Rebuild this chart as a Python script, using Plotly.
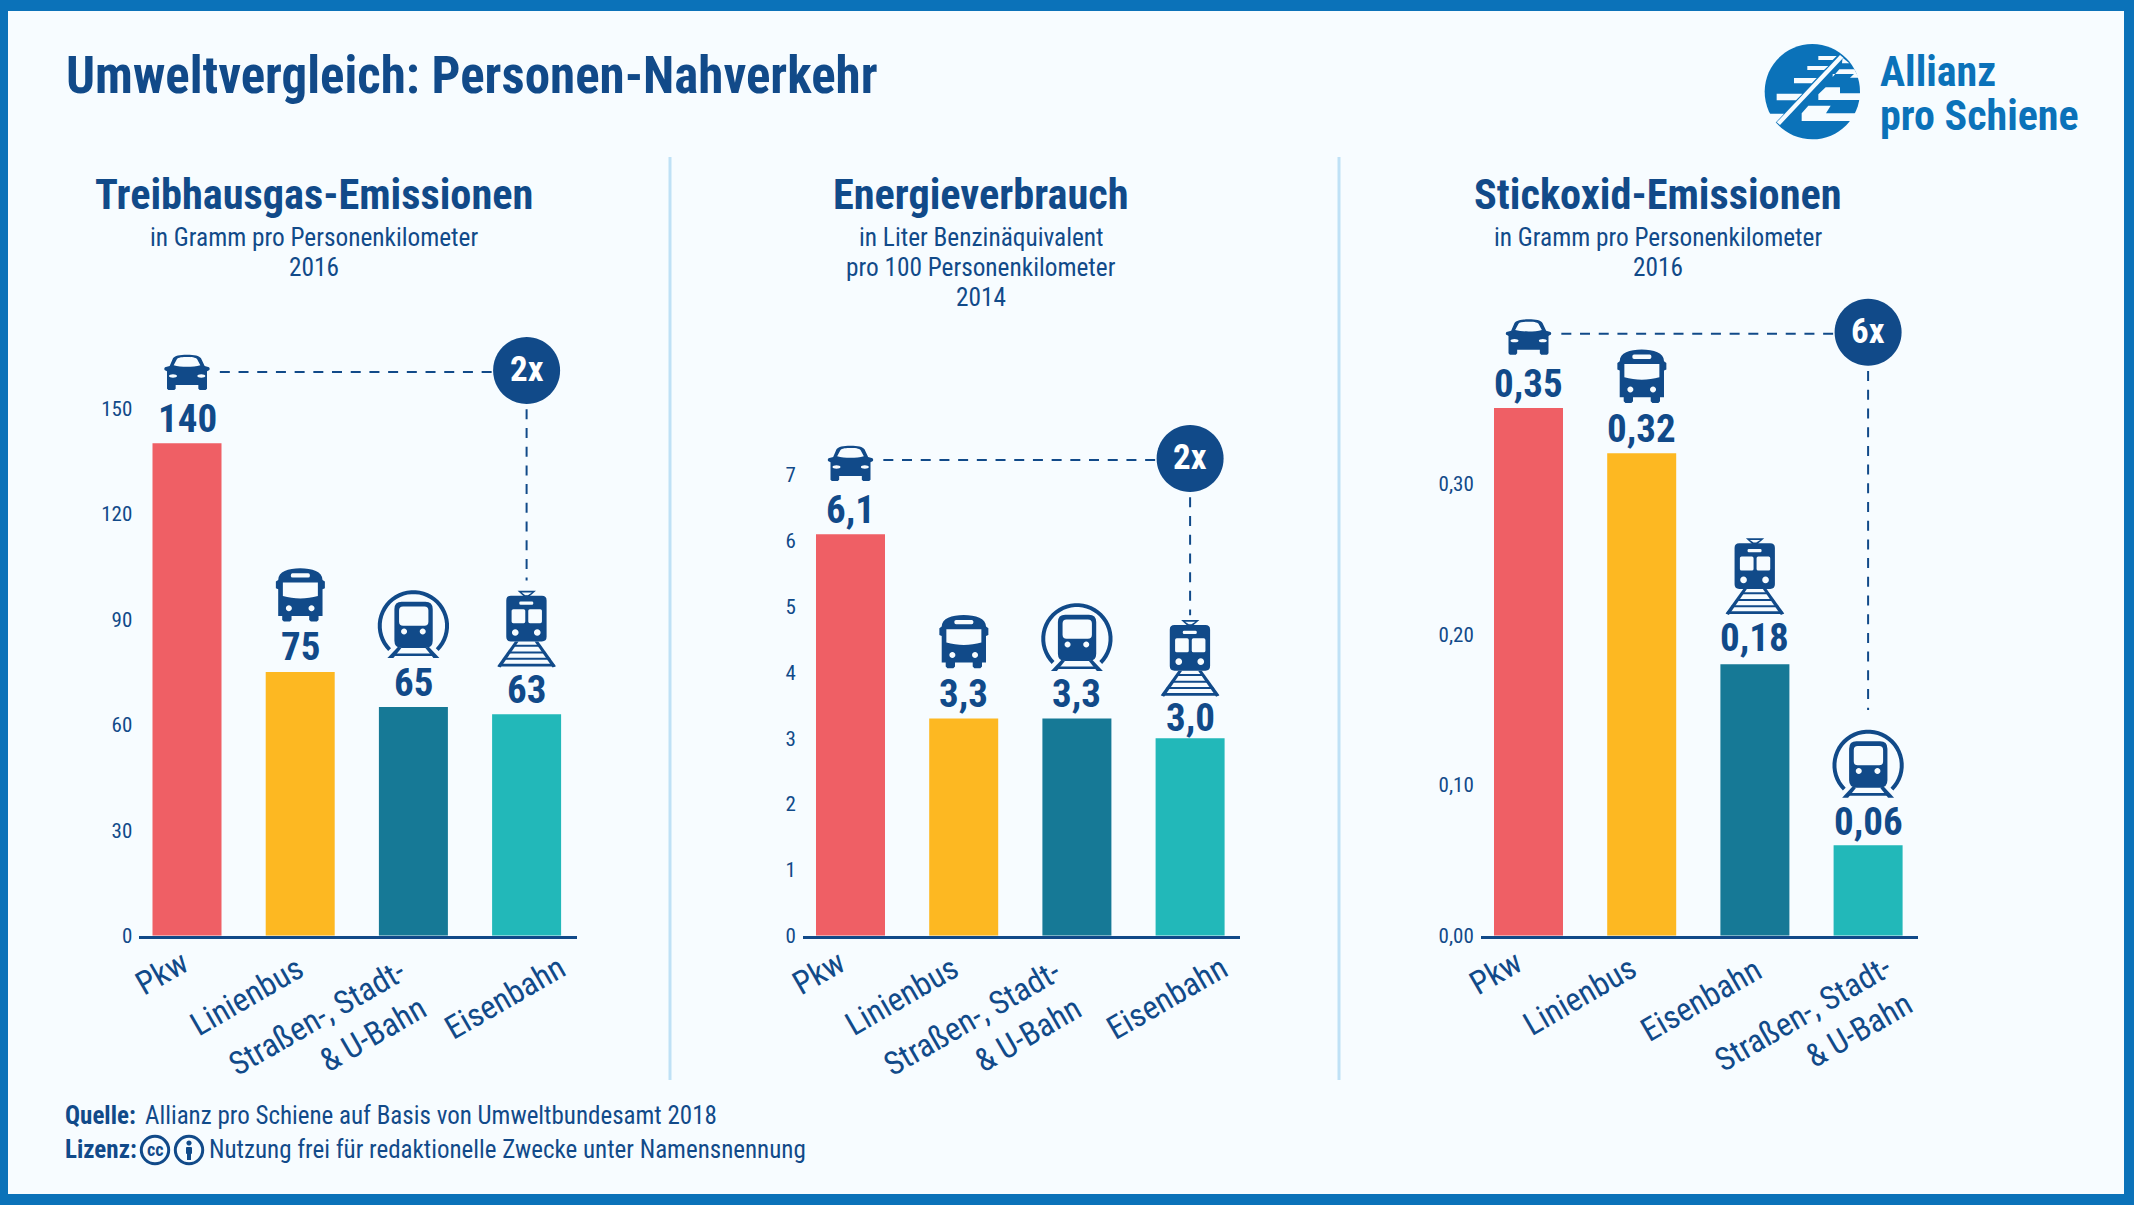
import re
import numpy as np
import plotly.graph_objects as go

W, H = 2134, 1205

# data
titles = ["Treibhausgas-Emissionen", "Energieverbrauch", "Stickoxid-Emissionen"]
subtitles = [
    ["in Gramm pro Personenkilometer", "2016"],
    ["in Liter Benzinäquivalent", "pro 100 Personenkilometer", "2014"],
    ["in Gramm pro Personenkilometer", "2016"],
]
labels_ghg = ["Pkw", "Linienbus", "Straßen-, Stadt-<br>& U-Bahn", "Eisenbahn"]
labels_energy = ["Pkw", "Linienbus", "Straßen-, Stadt-<br>& U-Bahn", "Eisenbahn"]
labels_nox = ["Pkw", "Linienbus", "Eisenbahn", "Straßen-, Stadt-<br>& U-Bahn"]
values_ghg = [140, 75, 65, 63]
values_energy = [6.1, 3.3, 3.3, 3.0]
values_nox = [0.35, 0.32, 0.18, 0.06]
text_ghg = ["140", "75", "65", "63"]
text_energy = ["6,1", "3,3", "3,3", "3,0"]
text_nox = ["0,35", "0,32", "0,18", "0,06"]
ticks_ghg = [0, 30, 60, 90, 120, 150]
ticks_energy = [0, 1, 2, 3, 4, 5, 6, 7]
ticks_nox = [0, 0.1, 0.2, 0.3]
ticktext_nox = ["0,00", "0,10", "0,20", "0,30"]
icons_ghg = ["car", "bus", "metro", "train"]
icons_energy = ["car", "bus", "metro", "train"]
icons_nox = ["car", "bus", "train", "metro"]
factor_labels = ["2x", "2x", "6x"]
# y value of the dashed connector and where the vertical part stops (axis units)
connector_y = [160.3, 7.23, 0.3993]
connector_end = [101.0, 4.87, 0.1497]

NAVY = "#114A89"
BLUE = "#0B72B9"
PANEL = "#F7FCFF"
SEP = "#BFE1F6"
BAR_COLORS = ["#EF5F65", "#FDB822", "#167996", "#22B8B9"]
FONT = "Roboto Condensed"

BASE_Y = 935.7
TOP_Y = 280
PITCH = 113.2
VALUE_SHIFT = 24.5
# (chart, bar): pixels the icon and the value label sit higher or lower than usual
icon_nudge = {(1, 2): -1.5, (1, 3): -5, (2, 2): 2.7, (2, 3): -1.4}
text_nudge = {(1, 3): -4, (2, 2): 1.5, (2, 3): -1}


def px_x(x):
    return x / W


def px_y(y):
    return 1 - y / H


def circ(cx, cy, rx, ry=None):
    ry = rx if ry is None else ry
    k = 0.5523
    return (f"M {cx-rx} {cy} C {cx-rx} {cy-k*ry} {cx-k*rx} {cy-ry} {cx} {cy-ry} "
            f"C {cx+k*rx} {cy-ry} {cx+rx} {cy-k*ry} {cx+rx} {cy} "
            f"C {cx+rx} {cy+k*ry} {cx+k*rx} {cy+ry} {cx} {cy+ry} "
            f"C {cx-k*rx} {cy+ry} {cx-rx} {cy+k*ry} {cx-rx} {cy} Z ")


def rrect(x0, y0, x1, y1, r):
    return (f"M {x0+r} {y0} L {x1-r} {y0} Q {x1} {y0} {x1} {y0+r} L {x1} {y1-r} Q {x1} {y1} {x1-r} {y1} "
            f"L {x0+r} {y1} Q {x0} {y1} {x0} {y1-r} L {x0} {y0+r} Q {x0} {y0} {x0+r} {y0} Z ")


def poly(*pts):
    return "M " + " L ".join(f"{x} {y}" for x, y in pts) + " Z "


def band(cx, cy, r0, r1, a0, a1):
    # arc band as a polygon, angles in degrees
    a = np.radians(np.linspace(a0, a1, 40))
    outer = [(cx + r1 * np.cos(t), cy + r1 * np.sin(t)) for t in a]
    inner = [(cx + r0 * np.cos(t), cy + r0 * np.sin(t)) for t in a[::-1]]
    return poly(*(outer + inner))


# icons are drawn in zoomed (3x) pixels, origin = bar centre at the bar top
ICONS = {
    "car": dict(origin=(112, 310), parts=[
        "M 60 78 L 70 55 C 75 47 90 44 112 44 C 134 44 149 47 154 55 L 165 78 L 178 82 C 182 86 180 92 175 92 "
        "L 172 94 L 172 146 L 168 150 L 150 150 L 146 146 L 146 135 L 78 135 L 78 146 L 74 150 L 56 150 L 52 146 "
        "L 52 94 L 49 92 C 44 92 42 86 46 82 Z "
        "M 72 76 L 82 57 C 85 52 100 51 112 51 C 124 51 139 52 142 57 L 152 76 C 130 82 94 82 72 76 Z "
        + circ(70, 108, 12, 5) + circ(155, 108, 12, 5)]),
    "bus": dict(origin=(151, 396), parts=[
        "M 85 120 C 85 95 115 85 151 85 C 187 85 218 95 218 120 L 225 125 L 225 145 L 218 148 L 218 228 L 206 228 "
        "L 206 240 L 201 245 L 183 245 L 178 240 L 178 228 L 125 228 L 125 240 L 120 245 L 102 245 L 97 240 L 97 228 "
        "L 85 228 L 85 148 L 78 145 L 78 125 Z "
        "M 99 128 L 204 128 L 204 168 C 170 178 133 178 99 168 Z "
        + rrect(123, 100, 180, 113, 5) + circ(117, 205, 9) + circ(185, 205, 9)]),
    "metro": dict(origin=(490, 499), parts=[
        band(490, 255, 95, 107, 135, 405),
        rrect(433, 183, 548, 322, 22) + rrect(447, 197, 535, 255, 12) + circ(462, 272, 9) + circ(518, 272, 9),
        poly((412, 352), (444, 318), (454, 322), (430, 352)),
        poly((568, 352), (536, 318), (526, 322), (550, 352)),
        poly((436, 338), (544, 338), (552, 346), (428, 346)),
    ]),
    "train": dict(origin=(830, 523), parts=[
        poly((803, 153), (858, 153), (838, 170), (822, 170)) + poly((815, 158), (846, 158), (834, 166), (826, 166)),
        rrect(769, 168, 890, 305, 14) + rrect(808, 185, 850, 195, 4) + rrect(785, 208, 826, 250, 5)
        + rrect(835, 208, 876, 250, 5) + circ(796, 278, 10) + circ(862, 278, 10),
        poly((795, 305), (806, 305), (752, 383), (742, 379)),
        poly((865, 305), (854, 305), (908, 383), (918, 379)),
        poly((790, 315), (870, 315), (874, 321), (786, 321)),
        poly((775, 335), (885, 335), (889, 341), (771, 341)),
        poly((761, 354), (899, 354), (903, 360), (757, 360)),
        poly((748, 372), (912, 372), (916, 380), (744, 380)),
    ]),
}


def to_pixel_path(path, origin, up=0):
    # zoomed y-down coordinates -> pixels relative to the anchor, y up
    parts = re.findall(r"[MLQCZ]|-?[\d.]+(?:e-?\d+)?", path)
    out, is_x = [], True
    for p in parts:
        if p in "MLQCZ":
            out.append(p)
            is_x = True
        elif is_x:
            out.append(f"{(float(p) - origin[0]) / 3:.2f}")
            is_x = False
        else:
            out.append(f"{-(float(p) - origin[1]) / 3 + up:.2f}")
            is_x = True
    return " ".join(out)


def to_paper_path(path, fx, fy):
    # absolute pixel mapping for page furniture (logo, licence icons)
    parts = re.findall(r"[MLQCZ]|-?[\d.]+(?:e-?\d+)?", path)
    out, is_x = [], True
    for p in parts:
        if p in "MLQCZ":
            out.append(p)
            is_x = True
        elif is_x:
            out.append(f"{px_x(fx(float(p))):.5f}")
            is_x = False
        else:
            out.append(f"{px_y(fy(float(p))):.5f}")
            is_x = True
    return " ".join(out)


# label_pos: pixel offset of each rotated label centre from its bar, and its y on the page
charts = [
    dict(x0=187.0, ppu=3.517, labels=labels_ghg, values=values_ghg, text=text_ghg, icons=icons_ghg,
         tickvals=ticks_ghg, ticktext=[str(t) for t in ticks_ghg], center=313.5,
         label_pos=[(-25, 973), (-53, 996), (-86, 1036), (-22, 998)]),
    dict(x0=850.5, ppu=65.8, labels=labels_energy, values=values_energy, text=text_energy, icons=icons_energy,
         tickvals=ticks_energy, ticktext=[str(t) for t in ticks_energy], center=981,
         label_pos=[(-32, 973), (-62, 996), (-94, 1036), (-23, 998)]),
    dict(x0=1528.5, ppu=1507.7, labels=labels_nox, values=values_nox, text=text_nox, icons=icons_nox,
         tickvals=ticks_nox, ticktext=ticktext_nox, center=1657.5,
         label_pos=[(-33, 973), (-62, 996), (-54, 1000), (-55, 1032)]),
]

fig = go.Figure()
shapes = []
annotations = []


def ann(x, y, text, size, color=NAVY, bold=False, anchor="center"):
    annotations.append(dict(x=px_x(x), y=px_y(y), xref="paper", yref="paper", text=text, showarrow=False,
                            xanchor=anchor, yanchor="middle", borderpad=0,
                            font=dict(family=FONT, size=size, color=color, weight=700 if bold else 400)))


# page frame
shapes.append(dict(type="rect", xref="paper", yref="paper", x0=px_x(8), x1=px_x(2124), y0=px_y(1194), y1=px_y(11),
                   fillcolor=PANEL, line_width=0, layer="below"))
for sx in [670, 1339]:
    shapes.append(dict(type="line", xref="paper", yref="paper", x0=px_x(sx), x1=px_x(sx), y0=px_y(157), y1=px_y(1080),
                       line=dict(color=SEP, width=3), layer="below"))

ann(65, 75, "Umweltvergleich: Personen-Nahverkehr", 51, bold=True, anchor="left")

layout_axes = {}
for i, c in enumerate(charts):
    suffix = "" if i == 0 else str(i + 1)
    xa, ya = "x" + suffix, "y" + suffix
    left = c["x0"] - 47.7
    right = c["x0"] + 389.7
    xpos = list(range(4))
    fig.add_trace(go.Bar(x=xpos, y=c["values"], width=69 / PITCH, marker=dict(color=BAR_COLORS, line_width=0),
                         hoverinfo="skip", xaxis=xa, yaxis=ya, showlegend=False))
    layout_axes["xaxis" + suffix] = dict(
        domain=[px_x(left), px_x(right)], range=[(left - c["x0"]) / PITCH, (right - c["x0"]) / PITCH],
        tickmode="array", tickvals=xpos, showticklabels=False, ticks="", showgrid=False, automargin=False,
        zeroline=False, showline=True, linecolor=NAVY, linewidth=2.5, anchor=ya)
    layout_axes["yaxis" + suffix] = dict(
        domain=[px_y(BASE_Y), px_y(TOP_Y)], range=[0, (BASE_Y - TOP_Y) / c["ppu"]], tickmode="array",
        tickvals=c["tickvals"], ticktext=c["ticktext"], ticks="", showgrid=False, zeroline=False, showline=False,
        anchor=xa, automargin=False, ticklabelstandoff=6, tickfont=dict(family=FONT, size=21, color=NAVY))

    # rotated category labels, placed by hand like the original
    for k, (lab, (dx, ly)) in enumerate(zip(c["labels"], c["label_pos"])):
        annotations.append(dict(x=k, xref=xa, y=px_y(ly), yref="paper", xshift=dx, text=lab, showarrow=False,
                                textangle=-30, align="right", xanchor="center", yanchor="middle",
                                font=dict(family=FONT, size=32.5, color=NAVY)))

    # heading block
    ann(c["center"], 195, titles[i], 42.3, bold=True)
    for j, line in enumerate(subtitles[i]):
        ann(c["center"], 238 + j * 29.5, line, 25.3)

    # value labels and icons above the bars
    for k, (name, val, txt) in enumerate(zip(c["icons"], c["values"], c["text"])):
        annotations.append(dict(x=k, y=val, xref=xa, yref=ya, text=txt, showarrow=False, xanchor="center",
                                yanchor="middle", yshift=VALUE_SHIFT + text_nudge.get((i, k), 0),
                                font=dict(family=FONT, size=39, color=NAVY, weight=700)))
        icon = ICONS[name]
        for part in icon["parts"]:
            shapes.append(dict(type="path", xref=xa, yref=ya, xsizemode="pixel", ysizemode="pixel",
                               xanchor=k, yanchor=val,
                               path=to_pixel_path(part, icon["origin"], icon_nudge.get((i, k), 0)),
                               fillcolor=NAVY, fillrule="evenodd", line_width=0))

    # dashed connector and factor badge
    dash = dict(color=NAVY, width=2, dash="10px,8.7px")
    cy = connector_y[i]
    shapes.append(dict(type="line", xref=xa, yref=ya, x0=0.29, x1=3, y0=cy, y1=cy, line=dash))
    shapes.append(dict(type="line", xref=xa, yref=ya, x0=3, x1=3, y0=cy, y1=connector_end[i], line=dash))
    shapes.append(dict(type="path", xref=xa, yref=ya, xsizemode="pixel", ysizemode="pixel", xanchor=3, yanchor=cy,
                       path=circ(0, 1.5, 33.5), fillcolor=NAVY, line_width=0))
    annotations.append(dict(x=3, y=cy, xref=xa, yref=ya, text=factor_labels[i], showarrow=False, yshift=2,
                            xanchor="center", yanchor="middle",
                            font=dict(family=FONT, size=35, color="white", weight=700)))

# logo
LOGO_BG = [
    poly((50, 262), (240, 60), (250, 68), (60, 270)),
    poly((175, 63), (230, 63), (218, 75), (175, 75)),
    poly((142, 93), (205, 93), (192, 105), (142, 105)),
    poly((102, 129), (170, 129), (155, 145), (102, 145)),
    poly((50, 176), (127, 176), (108, 196), (50, 196)),
    poly((15, 236), (72, 236), (48, 262), (15, 262)),
    poly((248, 68), (268, 85), (246, 85)),
    poly((238, 103), (283, 103), (296, 128), (270, 128), (282, 117), (218, 117), (218, 126)),
    poly((197, 157), (240, 157), (240, 175), (302, 175), (302, 195), (175, 195), (175, 178)),
    poly((145, 212), (212, 212), (198, 235), (302, 235), (302, 258), (125, 258), (125, 235)),
]
logo_x = lambda v: 1760 + v / 3
logo_y = lambda v: 35 + v / 3
shapes.append(dict(type="path", xref="paper", yref="paper",
                   path=to_paper_path(circ(157, 170, 143), logo_x, logo_y), fillcolor=BLUE, line_width=0))
for part in LOGO_BG:
    shapes.append(dict(type="path", xref="paper", yref="paper", path=to_paper_path(part, logo_x, logo_y),
                       fillcolor=PANEL, line_width=0))
ann(1879, 71, "Allianz", 42, color=BLUE, bold=True, anchor="left")
ann(1879, 116, "pro Schiene", 42, color=BLUE, bold=True, anchor="left")

# footer
ann(64, 1115, "Quelle:", 25, bold=True, anchor="left")
ann(144, 1115, "Allianz pro Schiene auf Basis von Umweltbundesamt 2018", 25, anchor="left")
ann(64, 1149, "Lizenz:", 25, bold=True, anchor="left")
ann(208, 1149, "Nutzung frei für redaktionelle Zwecke unter Namensnennung", 25, anchor="left")
same_x = lambda v: v
same_y = lambda v: v
for cx in [155, 189]:
    shapes.append(dict(type="path", xref="paper", yref="paper",
                       path=to_paper_path(circ(cx, 1150, 13.7), same_x, same_y), fillcolor=PANEL,
                       line=dict(color=NAVY, width=3)))
annotations.append(dict(x=px_x(155), y=px_y(1149), xref="paper", yref="paper", text="cc", showarrow=False,
                        xanchor="center", yanchor="middle",
                        font=dict(family=FONT, size=18, color=NAVY, weight=700)))
person = (circ(189, 1143, 2.6) + rrect(186, 1147, 192, 1154, 1) + poly((187, 1154), (191, 1154), (191, 1160), (187, 1160)))
shapes.append(dict(type="path", xref="paper", yref="paper", path=to_paper_path(person, same_x, same_y),
                   fillcolor=NAVY, line_width=0))

fig.update_layout(width=W, height=H, margin=dict(l=0, r=0, t=0, b=0, pad=0), paper_bgcolor=BLUE,
                  plot_bgcolor="rgba(0,0,0,0)", showlegend=False, shapes=shapes, annotations=annotations,
                  font=dict(family=FONT, color=NAVY), **layout_axes)

fig.write_html("out.html", config=dict(displayModeBar=False), post_script="document.body.style.margin='0';")
